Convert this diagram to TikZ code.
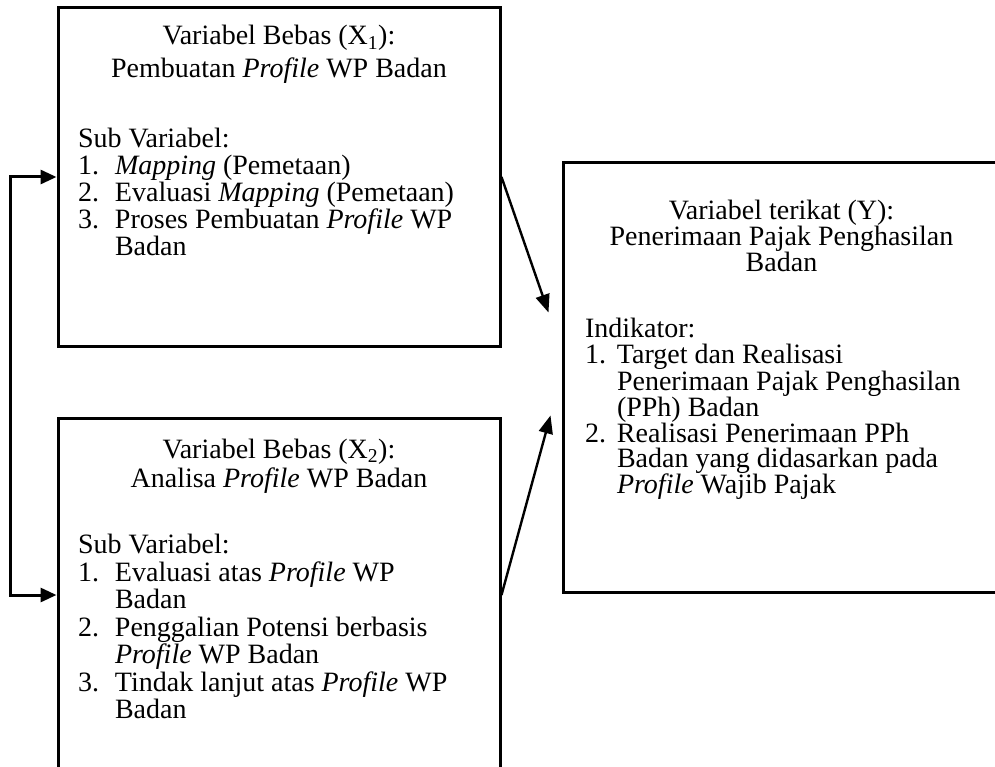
\documentclass[tikz,border=0pt]{standalone}
\usepackage{fontspec}
\setmainfont{Liberation Serif}
\usetikzlibrary{arrows.meta, calc, positioning}

\newlength{\numwd}
\newcommand{\boxfont}[1]{\fontsize{28}{#1}\selectfont}
\newcommand{\vitem}[2]{\par\hangindent=\numwd\hangafter=1\noindent\makebox[\numwd][l]{#1}#2\par}

\begin{document}
\begin{tikzpicture}[x=1pt, y=1pt,
  varbox/.style={draw, line width=3pt, inner sep=0pt, anchor=center},
  link/.style={line width=2.4pt, -{Triangle[length=18pt,width=14pt]}},
  loopline/.style={line width=3pt, {Triangle[length=16pt,width=14pt]}-{Triangle[length=16pt,width=14pt]}}
]
\useasboundingbox (0,0) rectangle (995,-767);
\clip (0,0) rectangle (995,-767);

%variabel bebas X1
\node[varbox] (x1) at (279,-177) {\parbox[t][338pt][t]{442pt}{\boxfont{27}\centering
  \rule{0pt}{37pt}Variabel Bebas (X\textsubscript{1}):\\[6pt]
  Pembuatan \textit{Profile} WP Badan\par\vspace{43pt}
  \raggedright\leftskip=20pt\numwd=37pt
  Sub Variabel:\par
  \vitem{1.}{\textit{Mapping} (Pemetaan)}
  \vitem{2.}{Evaluasi \textit{Mapping} (Pemetaan)}
  \vitem{3.}{Proses Pembuatan \textit{Profile} WP\newline Badan}}};

%variabel bebas X2
\node[varbox] (x2) at (279,-595) {\parbox[t][354pt][t]{442pt}{\boxfont{27.5}\centering
  \rule{0pt}{40pt}Variabel Bebas (X\textsubscript{2}):\\[2pt]
  Analisa \textit{Profile} WP Badan\par\vspace{38.5pt}
  \raggedright\leftskip=20pt\numwd=37pt
  Sub Variabel:\par
  \vitem{1.}{Evaluasi atas \textit{Profile} WP\newline Badan}
  \vitem{2.}{Penggalian Potensi berbasis\newline \textit{Profile} WP Badan}
  \vitem{3.}{Tindak lanjut atas \textit{Profile} WP\newline Badan}}};

%variabel terikat Y
\node[varbox] (y) at (781.5,-377.5) {\parbox[t][429pt][t]{437pt}{\boxfont{26}\centering
  \rule{0pt}{57pt}Variabel terikat (Y):\\
  Penerimaan Pajak Penghasilan\\
  Badan\par\vspace{40pt}
  \raggedright\leftskip=22pt\numwd=32pt
  Indikator:\par
  \vitem{1.}{Target dan Realisasi\newline Penerimaan Pajak Penghasilan\newline (PPh) Badan}
  \vitem{2.}{Realisasi Penerimaan PPh\newline Badan yang didasarkan pada\newline \textit{Profile} Wajib Pajak}}};

%arrow ends
\coordinate (yin1) at ($(y.west)+(-13,65)$);
\coordinate (yin2) at ($(y.west)+(-11,-38)$);

%draw arrows
\draw[link] (x1.east) -- (yin1);
\draw[link] (x2.east) -- (yin2);
\draw[loopline] (x1.west) -- ++(-46,0) |- (x2.west);
\end{tikzpicture}
\end{document}
